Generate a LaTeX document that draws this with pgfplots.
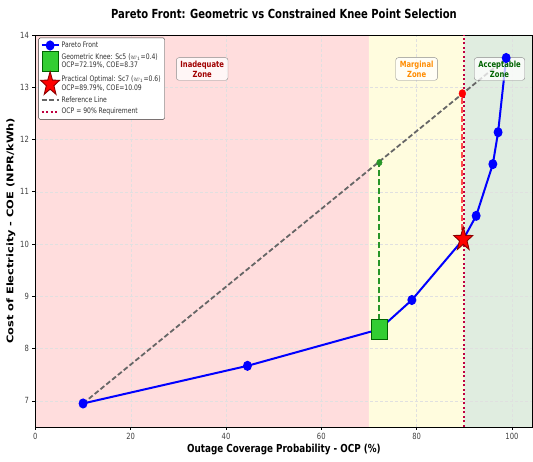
\documentclass[border=0pt]{standalone}
\usepackage{pgfplots}
\pgfplotsset{compat=1.18}
\usepackage{fontspec}
\setmainfont[FakeStretch=0.8]{DejaVu Sans}
\newfontfamily\ylabfont{DejaVu Sans}
\usetikzlibrary{plotmarks}

\definecolor{zonered}{RGB}{255,221,221}
\definecolor{zoneyellow}{RGB}{255,252,222}
\definecolor{zonegreen}{RGB}{224,237,224}
\definecolor{knee}{RGB}{50,205,50}
\definecolor{kneeedge}{RGB}{0,100,0}
\definecolor{vgreen}{RGB}{40,150,40}
\definecolor{labred}{RGB}{160,0,0}
\definecolor{laborange}{RGB}{255,140,0}
\definecolor{labgreen}{RGB}{0,100,0}

% filled five-pointed star
\pgfdeclareplotmark{fivestar}{%
  \pgfpathmoveto{\pgfpointpolar{90}{\pgfplotmarksize}}%
  \pgfpathlineto{\pgfpointpolar{126}{0.40\pgfplotmarksize}}%
  \pgfpathlineto{\pgfpointpolar{162}{\pgfplotmarksize}}%
  \pgfpathlineto{\pgfpointpolar{198}{0.40\pgfplotmarksize}}%
  \pgfpathlineto{\pgfpointpolar{234}{\pgfplotmarksize}}%
  \pgfpathlineto{\pgfpointpolar{270}{0.40\pgfplotmarksize}}%
  \pgfpathlineto{\pgfpointpolar{306}{\pgfplotmarksize}}%
  \pgfpathlineto{\pgfpointpolar{342}{0.40\pgfplotmarksize}}%
  \pgfpathlineto{\pgfpointpolar{18}{\pgfplotmarksize}}%
  \pgfpathlineto{\pgfpointpolar{54}{0.40\pgfplotmarksize}}%
  \pgfpathclose
  \pgfusepathqfillstroke}

\tikzset{zonebox/.style={draw=black!45, fill=white, fill opacity=0.75, text opacity=1,
  rounded corners=2.5pt, align=center, font=\bfseries\fontsize{8.5}{10}\selectfont,
  inner xsep=4pt, inner ysep=3pt}}

\begin{document}
\begin{tikzpicture}
\begin{axis}[
  set layers=standard,
  at={(0,0)}, anchor=south west,
  scale only axis, width=497pt, height=392pt,
  xmin=0, xmax=104.3, ymin=6.5, ymax=14,
  xtick={0,20,...,100}, ytick={7,8,...,14},
  grid=major, grid style={densely dashed, black!12, line width=0.4pt},
  axis line style={line width=0.9pt},
  tick style={black, line width=0.6pt}, major tick length=3pt,
  tick align=outside, xtick pos=bottom, ytick pos=left,
  /pgf/number format/assume math mode=true,
  ticklabel style={font=\fontsize{8.5}{9}\selectfont, text=black!75},
  xlabel={\textbf{Outage Coverage Probability - OCP (\%)}},
  xlabel style={font=\fontsize{11}{12}\selectfont, yshift=3pt},
  ylabel={\scalebox{1}[0.8]{\ylabfont\bfseries\fontsize{11.4}{12}\selectfont Cost of Electricity - COE (NPR/kWh)}},
  ylabel style={yshift=-2pt},
  title={\textbf{Pareto Front: Geometric vs Constrained Knee Point Selection}},
  title style={font=\fontsize{12.5}{14}\selectfont, at={(0.5,1)}, anchor=south, yshift=7pt},
  legend style={at={(0.006,0.993)}, anchor=north west, draw=black!80,
    rounded corners=1.5pt, font=\fontsize{7.6}{8.8}\selectfont,
    nodes={align=left, text=black!80}, row sep=0.3pt, inner sep=2pt},
  legend cell align=left,
]

% coverage zones
\addplot[on layer=axis background, draw=none, fill=zonered, forget plot]
  coordinates {(0,6.5) (70,6.5) (70,14) (0,14)} \closedcycle;
\addplot[on layer=axis background, draw=none, fill=zoneyellow, forget plot]
  coordinates {(70,6.5) (90,6.5) (90,14) (70,14)} \closedcycle;
\addplot[on layer=axis background, draw=none, fill=zonegreen, forget plot]
  coordinates {(90,6.5) (104.3,6.5) (104.3,14) (90,14)} \closedcycle;

% distances to the reference line
\addplot[vgreen, line width=2pt, dash pattern=on 6pt off 3pt, forget plot]
  coordinates {(72.19,8.37) (72.19,11.56)};
\addplot[red!70, line width=2pt, dash pattern=on 6pt off 3pt, forget plot]
  coordinates {(89.6,10.09) (89.6,12.88)};

% Pareto front
\addplot[blue, line width=2pt, mark=*, mark size=4pt,
  mark options={solid, fill=blue, xscale=0.85}]
  coordinates {
    (10.0,6.95) (44.5,7.67) (72.19,8.37) (79.0,8.93) (89.79,10.09)
    (92.5,10.54) (96.0,11.53) (97.1,12.14) (98.8,13.56)
  };
\addlegendentry{Pareto Front}

% knee points
\addplot[only marks, mark=square*, mark size=10pt,
  mark options={fill=knee, draw=kneeedge, line width=1pt, xscale=0.8}]
  coordinates {(72.19,8.37)};
\addlegendentry{Geometric Knee: Sc5 ($w_1$=0.4)\\OCP=72.19\%, COE=8.37}

\addplot[only marks, mark=fivestar, mark size=12.5pt,
  mark options={fill=red, draw=red!55!black, line width=0.9pt, xscale=0.8}]
  coordinates {(89.79,10.09)};
\addlegendentry{Practical Optimal: Sc7 ($w_1$=0.6)\\OCP=89.79\%, COE=10.09}

% reference line between the extreme points
\addplot[black!60, line width=1.8pt, dash pattern=on 5pt off 2.5pt]
  coordinates {(10.0,6.95) (98.8,13.56)};
\addlegendentry{Reference Line}

% OCP requirement
\addplot[purple, line width=2pt, dash pattern=on 2pt off 2.5pt]
  coordinates {(90,6.5) (90,14)};
\addlegendentry{OCP = 90\% Requirement}

% projections of the knee points onto the reference line
\addplot[only marks, mark=*, mark size=3.2pt, vgreen, mark options={xscale=0.85}, forget plot]
  coordinates {(72.19,11.56)};
\addplot[only marks, mark=*, mark size=4pt, red, mark options={xscale=0.85}, forget plot]
  coordinates {(89.6,12.88)};

% zone labels
\node[zonebox, text=labred] at (axis cs:35,13.35) {Inadequate\\Zone};
\node[zonebox, text=laborange] at (axis cs:80,13.35) {Marginal\\Zone};
\node[zonebox, text=labgreen] at (axis cs:97.4,13.35) {Acceptable\\Zone};
\end{axis}
\path[use as bounding box] (-35.4pt,-35pt) rectangle (497.6pt,427pt);
\end{tikzpicture}
\end{document}
